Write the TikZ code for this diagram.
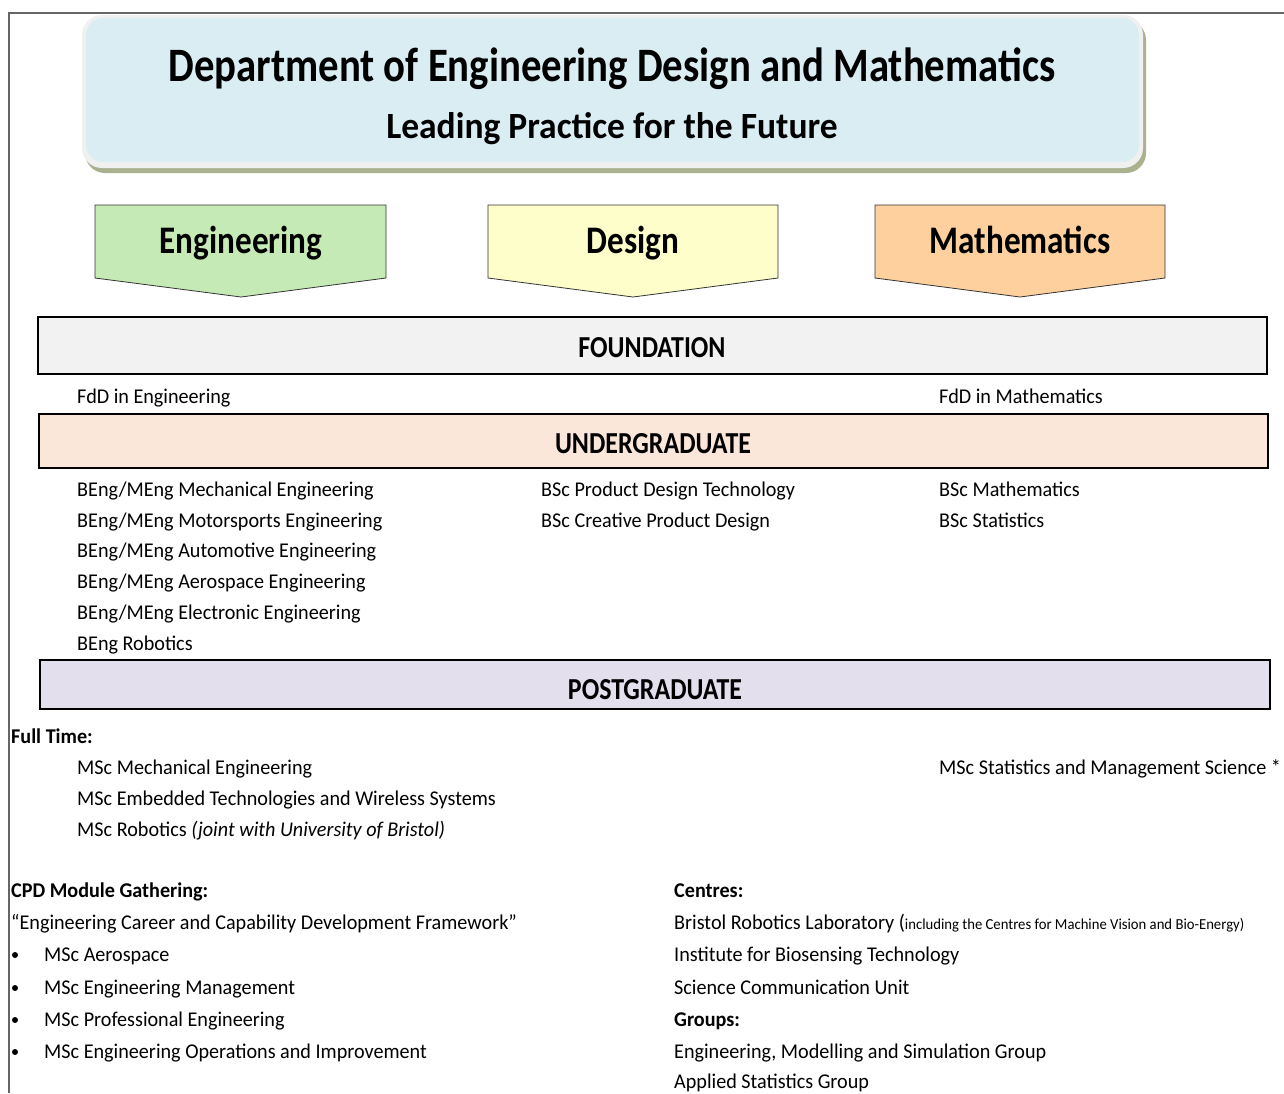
\documentclass[tikz,border=0pt]{standalone}
\usepackage{fontspec}
\setmainfont[FakeStretch=0.96]{Carlito}
\newfontfamily\hfont[FakeStretch=0.85]{Carlito}
\usetikzlibrary{calc}
\definecolor{frame}{HTML}{666666}
\definecolor{titlefill}{HTML}{DAEDF3}
\definecolor{titlerim}{HTML}{F0F0F0}
\definecolor{titleshadow}{HTML}{A9B18F}
\definecolor{engfill}{HTML}{C6EAB5}
\definecolor{desfill}{HTML}{FEFECB}
\definecolor{matfill}{HTML}{FDD09D}
\definecolor{foundfill}{HTML}{F2F2F2}
\definecolor{ugfill}{HTML}{FBE7D9}
\definecolor{pgfill}{HTML}{E4DFEC}
\newcommand{\fs}[1]{\fontsize{#1}{#1}\selectfont}
\tikzset{
  txt/.style={inner sep=0pt, anchor=base west, font=\fs{21}},
  hd/.style={inner sep=0pt, anchor=base west, font=\fs{21}\bfseries},
  band/.style={draw=black, line width=1.3pt},
  bandlabel/.style={inner sep=0pt, anchor=base, font=\hfont\fs{30.5}\bfseries},
  arrowlabel/.style={inner sep=0pt, anchor=base, font=\hfont\fs{39}\bfseries},
  arrowbox/.style={draw=black!80, line width=0.8pt},
}
\begin{document}
\begin{tikzpicture}[x=1pt,y=-1pt]
\useasboundingbox (0,0) rectangle (1284,1093);
% frame
\draw[frame, line width=2pt] (9,1093) -- (9,13) -- (1284,13);
% title box
\fill[titleshadow, rounded corners=20pt] (85,20) rectangle (1146,173);
\fill[titlerim, rounded corners=20pt] (82,15) rectangle (1143,168);
\fill[titlefill, rounded corners=17pt] (86,18) rectangle (1139,162);
\node[inner sep=0pt, anchor=base, font=\hfont\fs{48}\bfseries] (title) at (612,81) {Department of Engineering Design and Mathematics};
\node[inner sep=0pt, anchor=base, font=\fs{37}\bfseries] (subtitle) at (612,138) {Leading Practice for the Future};
% arrows
\draw[arrowbox, fill=engfill] (95,205) -- (386,205) -- (386,278) -- (241,297) -- (95,278) -- cycle;
\draw[arrowbox, fill=desfill] (488,205) -- (778,205) -- (778,278) -- (633,297) -- (488,278) -- cycle;
\draw[arrowbox, fill=matfill] (875,205) -- (1165,205) -- (1165,278) -- (1020,297) -- (875,278) -- cycle;
\node[arrowlabel] (eng) at (241,253) {Engineering};
\node[arrowlabel] (des) at (633,253) {Design};
\node[arrowlabel] (mat) at (1020,253) {Mathematics};
% bands
\draw[band, fill=foundfill] (38,317) rectangle (1267,374);
\node[bandlabel] (found) at (652,357) {FOUNDATION};
\draw[band, fill=ugfill] (39,414) rectangle (1268,468);
\node[bandlabel] (ug) at (653,453) {UNDERGRADUATE};
\draw[band, fill=pgfill] (40,660) rectangle (1270,709);
\node[bandlabel] (pg) at (655,699) {POSTGRADUATE};
% foundation
\node[txt] (fe) at (77,403) {FdD in Engineering};
\node[txt] (fm) at (939,403) {FdD in Mathematics};
% undergraduate
\node[txt] (u1) at (77,496) {BEng/MEng Mechanical Engineering};
\node[txt] (u2) at (77,527) {BEng/MEng Motorsports Engineering};
\node[txt] (u3) at (77,557) {BEng/MEng Automotive Engineering};
\node[txt] (u4) at (77,588) {BEng/MEng Aerospace Engineering};
\node[txt] (u5) at (77,619) {BEng/MEng Electronic Engineering};
\node[txt] (u6) at (77,650) {BEng Robotics};
\node[txt] (d1) at (541,496) {BSc Product Design Technology};
\node[txt] (d2) at (541,527) {BSc Creative Product Design};
\node[txt] (m1) at (939,496) {BSc Mathematics};
\node[txt] (m2) at (939,527) {BSc Statistics};
% postgraduate
\node[hd] (ft) at (11,743) {Full Time:};
\node[txt] (p1) at (77,774) {MSc Mechanical Engineering};
\node[txt] (p2) at (77,805) {MSc Embedded Technologies and Wireless Systems};
\node[txt] (p3) at (77,836) {MSc Robotics \textit{(joint with University of Bristol)}};
\node[txt] (p4) at (939,774) {MSc Statistics and Management Science *};
% CPD
\node[hd] (cpd) at (11,897) {CPD Module Gathering:};
\node[txt] (fw) at (11,929) {“Engineering Career and Capability Development Framework”};
\foreach \y/\t [count=\i] in {961/MSc Aerospace, 994/MSc Engineering Management, 1026/MSc Professional Engineering, 1058/MSc Engineering Operations and Improvement}{
  \fill (15,\y-6) circle (3pt);
  \node[txt] (c\i) at (44,\y) {\t};
}
% centres
\node[hd] (cen) at (674,897) {Centres:};
\node[txt] (r1) at (674,929) {Bristol Robotics Laboratory (\fs{15.3}including the Centres for Machine Vision and Bio-Energy)};
\node[txt] (r2) at (674,961) {Institute for Biosensing Technology};
\node[txt] (r3) at (674,994) {Science Communication Unit};
\node[hd] (grp) at (674,1026) {Groups:};
\node[txt] (g1) at (674,1058) {Engineering, Modelling and Simulation Group};
\node[txt] (g2) at (674,1088) {Applied Statistics Group};
\end{tikzpicture}
\end{document}
